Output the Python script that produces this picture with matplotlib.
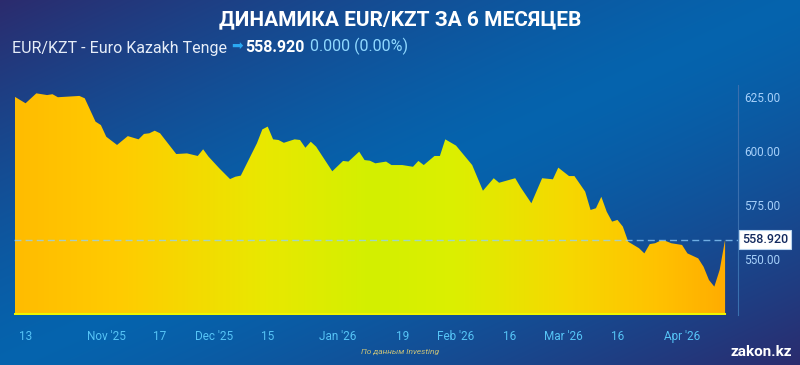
import numpy as np
import matplotlib.pyplot as plt
from matplotlib.colors import LinearSegmentedColormap
from matplotlib.patches import Polygon
from matplotlib.transforms import blended_transform_factory

# --- data: trading-day index (weekdays from 9 Oct 2025) and EUR/KZT close ---
days = [0, 2, 4, 6, 7, 8, 12, 13, 15, 16, 17, 19, 21, 23, 24, 25, 26, 27,
        30, 32, 34, 35, 36, 38, 40, 41, 42, 45, 46, 47, 48, 49, 50, 52, 53,
        54, 55, 56, 59, 61, 62, 64, 65, 66, 67, 69, 70, 72, 74, 75, 76, 78,
        79, 80, 82, 85, 87, 89, 90, 93, 94, 96, 98, 100, 101, 103, 104, 106,
        107, 108, 109, 110, 111, 112, 113, 114, 116, 117, 118, 119, 120, 121,
        122, 124, 125, 127, 128, 129, 130, 131, 132]
rates = [625.1, 622.1, 626.7, 625.9, 626.3, 624.9, 625.5, 624.4, 613.6, 612.0,
         606.6, 602.8, 606.9, 605.4, 607.9, 608.2, 609.4, 608.2, 598.6, 598.9,
         597.7, 600.8, 597.4, 592.0, 587.0, 588.1, 588.6, 603.6, 610.0, 611.3,
         605.4, 605.1, 603.8, 605.4, 605.1, 601.5, 604.3, 602.0, 590.6, 595.4,
         595.1, 599.7, 595.8, 595.5, 594.3, 595.1, 593.5, 593.5, 592.7, 595.4,
         593.5, 597.7, 597.7, 605.4, 602.5, 593.5, 581.6, 587.4, 585.3, 587.4,
         583.2, 575.8, 587.4, 586.9, 592.3, 588.4, 588.4, 581.2, 572.7, 573.5,
         578.8, 571.9, 567.3, 568.1, 565.0, 558.0, 555.0, 552.6, 556.9, 557.3,
         558.5, 558.3, 557.3, 556.5, 552.6, 550.3, 546.4, 540.3, 537.2, 545.0,
         558.92]
last_rate = 558.92

tick_days = [2, 17, 27, 37, 47, 60, 72, 82, 92, 102, 112, 124]
tick_labels = ["13", "Nov '25", "17", "Dec '25", "15", "Jan '26", "19",
               "Feb '26", "16", "Mar '26", "16", "Apr '26"]
y_ticks = [550, 575, 600, 625]

W, H = 800, 365
plt.rcParams['font.family'] = ['Roboto', 'DejaVu Sans']

fig = plt.figure(figsize=(W / 100, H / 100), dpi=100)

# background gradient: dark corners top-left / bottom-right, bright band between
bg = fig.add_axes([0, 0, 1, 1])
bg.axis('off')
yy, xx = np.mgrid[0:H, 0:W]
s = (xx / W + yy / H) / 2
k = 1 - np.abs(2 * s - 1) ** 1.4
dark = np.array([0.17, 0.17, 0.43])
bright = np.array([0.02, 0.39, 0.68])
bg.imshow(dark + (bright - dark) * k[..., None], extent=[0, 1, 0, 1],
          aspect='auto', origin='upper')

# chart area
ax = fig.add_axes([14 / W, 1 - 315 / H, 724 / W, 230 / H])
ax.patch.set_alpha(0)
x_lo, x_hi = -0.15, 134.4
y_lo, y_hi = 524.07, 630.56

poly = Polygon([(days[0], y_lo)] + list(zip(days, rates)) + [(days[-1], y_lo)],
               closed=True, facecolor='none', edgecolor='none')
ax.add_patch(poly)

fill_cmap = LinearSegmentedColormap.from_list('fill', [
    (0.0, '#ffbc00'), (0.15, '#ffcc00'), (0.35, '#e9e800'), (0.5, '#d3f000'),
    (0.62, '#dcef00'), (0.78, '#f6d800'), (0.9, '#ffc300'), (1.0, '#ffad00')])
grad = np.tile(np.linspace(0, 1, 400), (50, 1))
im = ax.imshow(grad, cmap=fill_cmap, extent=[days[0], days[-1], y_lo, y_hi],
               aspect='auto', zorder=1)
im.set_clip_path(poly)
ax.plot([days[0], days[-1]], [y_lo + 0.3, y_lo + 0.3], color='#eef500', lw=1.5, zorder=2)

# last price line and label
ax.axhline(last_rate, color='#8fd0ff', lw=1, ls=(0, (5, 3)), alpha=0.75, zorder=3)
trans = blended_transform_factory(ax.transAxes, ax.transData)
ax.annotate(f'{last_rate:.3f}', xy=(1, last_rate), xycoords=trans,
            xytext=(3, 0), textcoords='offset points', va='center', ha='left',
            fontsize=9, fontweight='medium', color='#13295e', zorder=5,
            bbox=dict(boxstyle='square,pad=0.25', fc='white', ec='#b9d4ee', lw=0.8),
            annotation_clip=False)

ax.set_xlim(x_lo, x_hi)
ax.set_ylim(y_lo, y_hi)
for side in ['top', 'left', 'bottom']:
    ax.spines[side].set_visible(False)
ax.spines['right'].set_color('#3a6fae')
ax.spines['right'].set_linewidth(0.8)

ax.yaxis.tick_right()
ax.set_yticks(y_ticks, [f'{v:.2f}' for v in y_ticks])
ax.tick_params(axis='y', length=0, pad=4.5, labelsize=8.5, labelcolor='#a6d0fa')
ax.set_xticks(tick_days, tick_labels)
ax.tick_params(axis='x', length=0, pad=11, labelsize=8.5, labelcolor='#56c4f6')

# header
fig.text(0.5, 1 - 20 / H, 'ДИНАМИКА EUR/KZT ЗА 6 МЕСЯЦЕВ', ha='center', va='center',
         fontsize=15, fontweight='bold', color='white')
t1 = fig.text(12 / W, 1 - 48 / H, 'EUR/KZT - Euro Kazakh Tenge', ha='left', va='center',
              fontsize=11.5, color='#e6edf8')
a2 = ax.annotate('\u27a1', xy=(1, 0.15), xycoords=t1, xytext=(3, 0),
                 textcoords='offset points', va='bottom', fontsize=10,
                 color='#2aa8f2', family=['DejaVu Sans'], annotation_clip=False)
a3 = ax.annotate('558.920', xy=(1, 0), xycoords=a2, xytext=(2, -1),
                 textcoords='offset points', va='bottom', fontsize=11.5,
                 fontweight='bold', color='white', annotation_clip=False)
ax.annotate('0.000 (0.00%)', xy=(1, 0), xycoords=a3, xytext=(4, 0),
            textcoords='offset points', va='bottom', fontsize=11.5,
            color='#8fd8ff', annotation_clip=False)

# footer
fig.text(400 / W, 1 - 352 / H, 'По данным Investing', ha='center', va='center',
         fontsize=6, style='italic', color='#c9c27a')
fig.text(792 / W, 1 - 352 / H, 'zakon.kz', ha='right', va='center',
         fontsize=11, fontweight='bold', color='white')

fig.savefig('out.png', dpi=100)
